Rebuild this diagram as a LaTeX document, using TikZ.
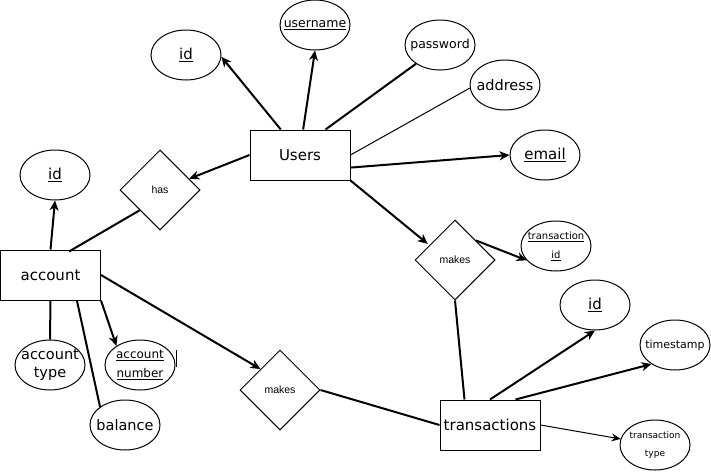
\documentclass[tikz,border=0pt]{standalone}
\usepackage{fontspec}
\setmainfont{DejaVu Sans}
\newfontfamily\arialfont{Liberation Sans}
\usepackage{tikz}
\usetikzlibrary{shapes.geometric, arrows.meta}

\begin{document}
\begin{tikzpicture}[x=1pt, y=-1pt,
    entity/.style={rectangle, draw=black, line width=1pt, minimum width=100pt, minimum height=50pt, inner sep=0pt, font=\fontsize{15}{18}\selectfont},
    attr/.style={ellipse, draw=black, line width=1pt, minimum width=70pt, minimum height=50pt, inner xsep=-8pt, inner ysep=0pt, align=center, font=\fontsize{15}{18}\selectfont},
    rel/.style={diamond, draw=black, line width=1pt, minimum width=80pt, minimum height=80pt, inner sep=0pt, font=\arialfont\fontsize{10.5}{12}\selectfont},
    arrow/.style={-{Stealth[length=10pt, width=9pt, inset=3pt]}, line width=2pt},
    link/.style={line width=2pt},
    thinarrow/.style={-{Stealth[length=9pt, width=8pt, inset=3pt]}, line width=1pt},
    thinlink/.style={line width=1pt}
]
\useasboundingbox (0,0) rectangle (711,471);

% Entities
\node[entity] (users) at (300,155) {Users};
\node[entity] (acc) at (50.5,275) {account};
\node[entity] (trans) at (490,425) {transactions};

% Relationships
\node[rel] (has) at (160,190) {has};
\node[rel] (mkuser) at (455,260) {makes};
\node[rel] (mkacc) at (280,390) {makes};

% Users attributes
\node[attr] (uid) at (186,55) {\underline{id}};
\node[attr, font=\fontsize{12.5}{15}\selectfont] (uname) at (315,25) {\underline{username}};
\node[attr, font=\fontsize{12.5}{15}\selectfont] (pwd) at (440,45) {password};
\node[attr, font=\fontsize{14.5}{17}\selectfont] (addr) at (505,85) {address};
\node[attr] (email) at (545,155) {\underline{email}};

% Account attributes
\node[attr] (aid) at (55,175) {\underline{id}};
\node[attr, font=\fontsize{14.5}{18}\selectfont] (atype) at (50,365) {account\\type};
\node[attr, font=\fontsize{12}{19}\selectfont] (anum) at (140,365) {\underline{account}\\\underline{number}};
\node[attr, font=\fontsize{14.5}{17}\selectfont] (bal) at (125,425) {balance};

% Transaction attributes
\node[attr, font=\fontsize{10}{19}\selectfont] (tid) at (556,246) {\underline{transaction}\\\underline{id}};
\node[attr] (trid) at (595,305) {\underline{id}};
\node[attr, font=\fontsize{11}{13}\selectfont] (ts) at (675,345) {timestamp};
\node[attr, font=\fontsize{9}{18}\selectfont] (ttype) at (655,445) {transaction\\type};

% Users connectors
\draw[arrow] (users.127) -- (uid.-3);
\draw[arrow] (users.83) -- (uname.south);
\draw[link] (users.45) -- (pwd.218);
\draw[thinlink] (users.east) -- (addr.185);
\draw[arrow] (users.-14) -- (email.west);
\draw[arrow] (users.west) -- (has.21);
\draw[arrow, shorten >=2pt] (users.south east) -- (mkuser.150);

% Account connectors
\draw[link] (has.225) -- ([yshift=-2pt]acc.54);
\draw[arrow] (acc.north) -- (aid.south);
\draw[link] (acc.south) -- (atype.north);
\draw[link] (acc.-44) -- (bal.144);
\draw[arrow] (acc.south east) -- (anum.141);
\draw[thinlink] (176,350) -- (176,367);
\draw[arrow] (acc.east) -- (mkacc.133);
\draw[link] (mkacc.east) -- (trans.west);

% Transaction connectors
\draw[arrow] (mkuser.43) -- (tid.206);
\draw[link] (mkuser.south) -- (trans.135);
\draw[arrow] (trans.north) -- (trid.south);
\draw[arrow] (trans.45) -- (ts.219);
\draw[thinarrow] (trans.east) -- (ttype.170);

\end{tikzpicture}
\end{document}
